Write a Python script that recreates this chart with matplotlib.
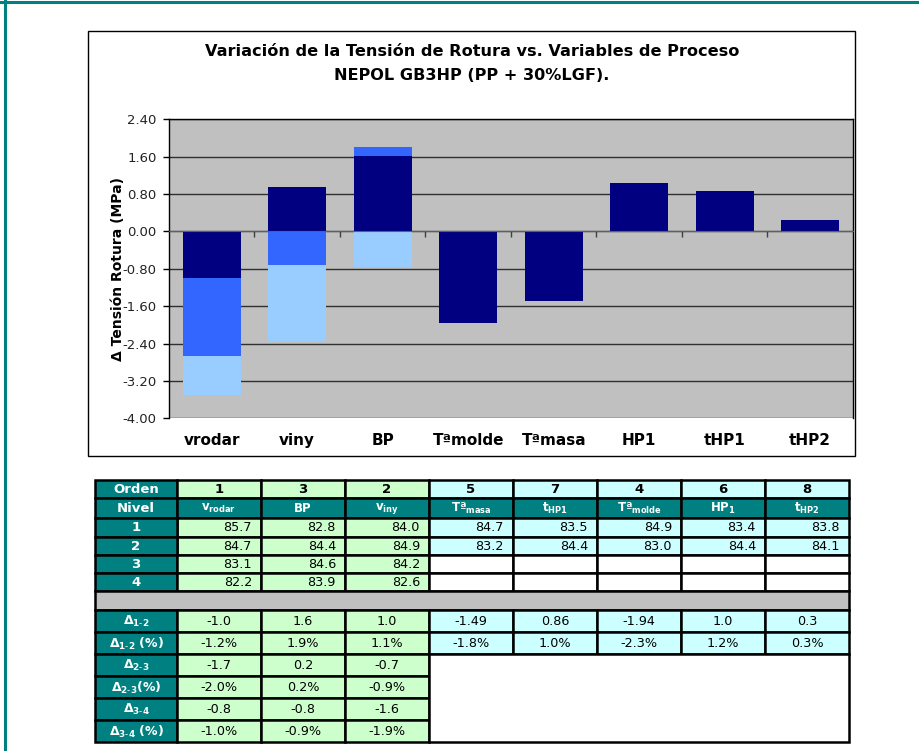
import numpy as np
import matplotlib
matplotlib.use("Agg")
import matplotlib.pyplot as plt
from matplotlib.patches import Rectangle
from matplotlib.lines import Line2D
import matplotlib.transforms as mtransforms

plt.rcParams["font.family"] = ["DejaVu Sans"]
plt.rcParams["mathtext.default"] = "bf"

# ---- chart data ----
categories = ["vrodar", "viny", "BP", "Tªmolde", "Tªmasa", "HP1", "tHP1", "tHP2"]
delta_12 = [-0.99, 0.95, 1.61, -1.95, -1.49, 1.04, 0.86, 0.24]
delta_23 = [-1.68, -0.72, 0.20, 0.0, 0.0, 0.0, 0.0, 0.0]
delta_34 = [-0.83, -1.63, -0.76, 0.0, 0.0, 0.0, 0.0, 0.0]
yticks = [-4.0, -3.2, -2.4, -1.6, -0.8, 0.0, 0.8, 1.6, 2.4]

# ---- table data ----
orden = ["1", "3", "2", "5", "7", "4", "6", "8"]
nivel = [r"v$_{rodar}$", "BP", r"v$_{iny}$", r"Tª$_{masa}$", r"t$_{HP1}$",
         r"Tª$_{molde}$", r"HP$_{1}$", r"t$_{HP2}$"]
level_1 = ["85.7", "82.8", "84.0", "84.7", "83.5", "84.9", "83.4", "83.8"]
level_2 = ["84.7", "84.4", "84.9", "83.2", "84.4", "83.0", "84.4", "84.1"]
level_3 = ["83.1", "84.6", "84.2"]
level_4 = ["82.2", "83.9", "82.6"]
d12 = ["-1.0", "1.6", "1.0", "-1.49", "0.86", "-1.94", "1.0", "0.3"]
d12_pct = ["-1.2%", "1.9%", "1.1%", "-1.8%", "1.0%", "-2.3%", "1.2%", "0.3%"]
d23 = ["-1.7", "0.2", "-0.7"]
d23_pct = ["-2.0%", "0.2%", "-0.9%"]
d34 = ["-0.8", "-0.8", "-1.6"]
d34_pct = ["-1.0%", "-0.9%", "-1.9%"]
delta_labels = [r"Δ$_{1\text{-}2}$", r"Δ$_{1\text{-}2}$ (%)", r"Δ$_{2\text{-}3}$",
                r"Δ$_{2\text{-}3}$(%)", r"Δ$_{3\text{-}4}$", r"Δ$_{3\text{-}4}$ (%)"]

NAVY = "#000080"
BLUE = "#3366FF"
LIGHT = "#99CCFF"
TEAL = "#008080"
GREEN = "#CCFFCC"
CYAN = "#CCFFFF"
GRAY = "#C0C0C0"

W, H = 920, 751
fig = plt.figure(figsize=(W / 100, H / 100), dpi=100)

# page background / overlay axes in pixel coords
bg = fig.add_axes([0, 0, 1, 1])
bg.set_xlim(0, W)
bg.set_ylim(H, 0)
bg.axis("off")
bg.add_line(Line2D([0, W], [1.5, 1.5], color=TEAL, lw=2.2))
bg.add_line(Line2D([5.5, 5.5], [0, H], color=TEAL, lw=2.2))
# chart box
bg.add_patch(Rectangle((88, 31), 767, 425, fill=False, ec="black", lw=1.0))
bg.text(472, 52, "Variación de la Tensión de Rotura vs. Variables de Proceso",
        ha="center", va="center", fontsize=11.6, fontweight="bold")
bg.text(472, 75, "NEPOL GB3HP (PP + 30%LGF).", ha="center", va="center",
        fontsize=11.6, fontweight="bold")

# ---- bar chart ----
ax = fig.add_axes([169 / W, 1 - 418.3 / H, (853 - 169) / W, (418.3 - 119.3) / H])
ax.set_facecolor(GRAY)
x = np.arange(len(categories))
pos_base = np.zeros(len(categories))
neg_base = np.zeros(len(categories))
for vals, col in [(delta_12, NAVY), (delta_23, BLUE), (delta_34, LIGHT)]:
    v = np.array(vals)
    bottom = np.where(v >= 0, pos_base, neg_base)
    ax.bar(x, v, 0.68, bottom=bottom, color=col, zorder=3)
    pos_base = pos_base + np.clip(v, 0, None)
    neg_base = neg_base + np.clip(v, None, 0)

ax.set_xlim(-0.5, len(categories) - 0.5)
ax.set_ylim(yticks[0], yticks[-1])
ax.set_yticks(yticks)
ax.set_yticklabels([f"{t:.2f}" for t in yticks], fontsize=9.5, color="#222222")
ax.tick_params(axis="y", length=4, width=1, pad=5)
ax.grid(axis="y", color="#303030", lw=1.0, zorder=1)
ax.set_axisbelow(True)
ax.spines["bottom"].set_position(("data", 0))
ax.spines["bottom"].set_color("#606060")
ax.spines["bottom"].set_zorder(4)
ax.set_xticks(np.arange(0.5, len(categories) - 0.5, 1))
ax.set_xticklabels([])
ax.tick_params(axis="x", length=4, width=1, color="#404040", direction="out")
for s in ["left", "right", "top"]:
    ax.spines[s].set_color("black")
    ax.spines[s].set_linewidth(1.0)
ax.set_ylabel("Δ Tensión Rotura (MPa)", fontsize=10, fontweight="bold")
ax.yaxis.set_label_coords(-0.065, 0.5)
trans = mtransforms.blended_transform_factory(ax.transData, ax.transAxes)
for xi, lab in zip(x, categories):
    ax.text(xi, -0.073, lab, transform=trans, ha="center", va="center",
            fontsize=11, fontweight="bold")

# ---- table ----
col_edges = [95, 177, 261, 345, 429, 513, 597, 681, 765, 849]
row_edges = [480, 498, 518, 536.5, 555, 573.3, 591, 610, 632, 654, 676, 698, 720, 742]


def cell(r, c, face, text="", color="black", bold=False, ha="center", size=9, lw=1.8):
    x0, x1 = col_edges[c], col_edges[c + 1]
    y0, y1 = row_edges[r], row_edges[r + 1]
    bg.add_patch(Rectangle((x0, y0), x1 - x0, y1 - y0, fc=face, ec="black", lw=lw))
    if text:
        tx = (x0 + x1) / 2 if ha == "center" else x1 - 9
        bg.text(tx, (y0 + y1) / 2 + 0.5, text, ha=ha, va="center", fontsize=size,
                color=color, fontweight="bold" if bold else "normal")


n_green = 3
col_face = [GREEN if i < n_green else CYAN for i in range(len(orden))]

cell(0, 0, TEAL, "Orden", "white", True, size=9.5)
cell(1, 0, TEAL, "Nivel", "white", True, size=9.5)
for i in range(len(orden)):
    cell(0, i + 1, col_face[i], orden[i], "black", True, size=9.5)
    cell(1, i + 1, TEAL, nivel[i], "white", True, size=8.5)
    cell(2, i + 1, col_face[i], level_1[i], ha="right", size=9.2)
    cell(3, i + 1, col_face[i], level_2[i], ha="right", size=9.2)

for r, lab in enumerate(["1", "2", "3", "4"]):
    cell(2 + r, 0, TEAL, lab, "white", True, size=9.5)
for i in range(len(orden)):
    if i < n_green:
        cell(4, i + 1, GREEN, level_3[i], ha="right", size=9.2)
        cell(5, i + 1, GREEN, level_4[i], ha="right", size=9.2)
    else:
        cell(4, i + 1, "white")
        cell(5, i + 1, "white")

# grey separator row
bg.add_patch(Rectangle((col_edges[0], row_edges[6]), col_edges[-1] - col_edges[0],
                       row_edges[7] - row_edges[6], fc=GRAY, ec="black", lw=1.8))

delta_rows = [d12, d12_pct, d23, d23_pct, d34, d34_pct]
for r, (lab, vals) in enumerate(zip(delta_labels, delta_rows)):
    cell(7 + r, 0, TEAL, lab, "white", True, size=9)
    for i, v in enumerate(vals):
        cell(7 + r, i + 1, col_face[i], v, size=9.2)

# empty merged area for cyan columns
bg.add_patch(Rectangle((col_edges[4], row_edges[9]), col_edges[-1] - col_edges[4],
                       row_edges[-1] - row_edges[9], fc="white", ec="black", lw=1.8))

fig.savefig("out.png", dpi=100)
